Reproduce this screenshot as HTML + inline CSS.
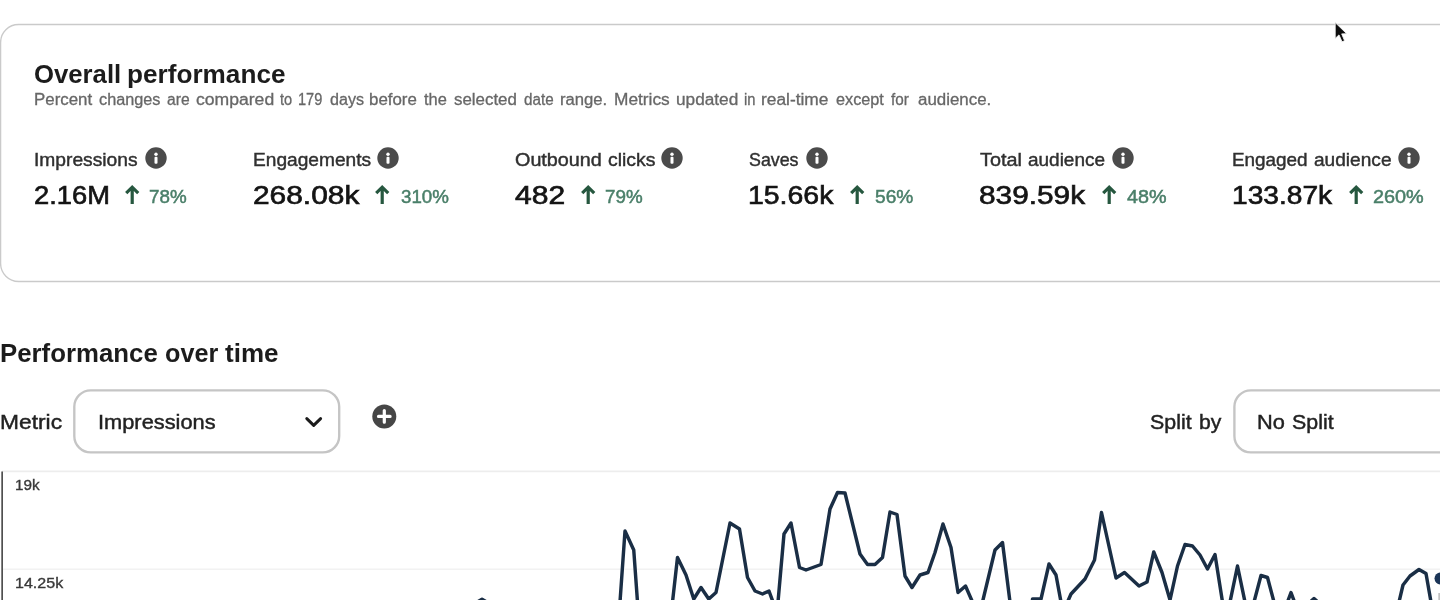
<!DOCTYPE html>
<html lang="en"><head><meta charset="utf-8"><title>Overall performance</title>
<style>
html,body{margin:0;padding:0;background:#fff}
body{width:1440px;height:600px;position:relative;overflow:hidden;font-family:"Liberation Sans",sans-serif}
.t{position:absolute;white-space:nowrap;line-height:1;transform-origin:0 50%;display:block}
.a{position:absolute;display:block}
.h1{font-size:26px;color:#1c1c1c;font-weight:700;}
.sub{font-size:16px;color:#676767;-webkit-text-stroke:0.3px #676767;}
.lab{font-size:17.9px;color:#303030;-webkit-text-stroke:0.42px #303030;}
.val{font-size:25.5px;color:#141414;-webkit-text-stroke:0.65px #141414;}
.pct{font-size:19px;color:#4a7f69;-webkit-text-stroke:0.5px #4a7f69;}
.h2{font-size:26px;color:#1c1c1c;font-weight:700;}
.ctl{font-size:21px;color:#222;-webkit-text-stroke:0.45px #222;}
.ax{font-size:15px;color:#383838;-webkit-text-stroke:0.35px #383838;}
</style></head><body>
<div id="wrap" style="position:absolute;left:0;top:0;width:1440px;height:600px;overflow:hidden">
<svg class="a" style="left:0;top:20px" width="1440" height="266" viewBox="0 20 1440 266"><rect x="0.6" y="24.5" width="1500" height="257" rx="18" ry="18" fill="#fff" stroke="#cacaca" stroke-width="1.35"/></svg>
<h1 style="margin:0"><span class="t h1" style="left:33.61px;top:61.00px;transform:scaleX(0.9890)">Overall</span>
<span class="t h1" style="left:126.99px;top:61.00px;transform:scaleX(1.0062)">performance</span></h1>
<p style="margin:0"><span class="t sub" style="left:33.60px;top:92.00px;transform:scaleX(1.0546)">Percent</span>
<span class="t sub" style="left:98.90px;top:92.00px;transform:scaleX(1.0158)">changes</span>
<span class="t sub" style="left:167.15px;top:92.00px;transform:scaleX(0.9776)">are</span>
<span class="t sub" style="left:196.41px;top:92.00px;transform:scaleX(1.0985)">compared</span>
<span class="t sub" style="left:279.64px;top:92.00px;transform:scaleX(0.9094)">to</span>
<span class="t sub" style="left:297.98px;top:92.00px;transform:scaleX(0.9101)">179</span>
<span class="t sub" style="left:329.65px;top:92.00px;transform:scaleX(1.0045)">days</span>
<span class="t sub" style="left:369.40px;top:92.00px;transform:scaleX(1.0543)">before</span>
<span class="t sub" style="left:423.90px;top:92.00px;transform:scaleX(1.0268)">the</span>
<span class="t sub" style="left:453.91px;top:92.00px;transform:scaleX(1.0552)">selected</span>
<span class="t sub" style="left:523.89px;top:92.00px;transform:scaleX(0.9511)">date</span>
<span class="t sub" style="left:560.37px;top:92.00px;transform:scaleX(1.0411)">range.</span>
<span class="t sub" style="left:614.08px;top:92.00px;transform:scaleX(1.0815)">Metrics</span>
<span class="t sub" style="left:676.09px;top:92.00px;transform:scaleX(1.0758)">updated</span>
<span class="t sub" style="left:744.22px;top:92.00px;transform:scaleX(0.9213)">in</span>
<span class="t sub" style="left:761.08px;top:92.00px;transform:scaleX(1.0830)">real-time</span>
<span class="t sub" style="left:836.40px;top:92.00px;transform:scaleX(1.0157)">except</span>
<span class="t sub" style="left:891.39px;top:92.00px;transform:scaleX(0.9545)">for</span>
<span class="t sub" style="left:917.66px;top:92.00px;transform:scaleX(1.0550)">audience.</span></p>
<div><span class="t lab" style="left:33.65px;top:152.00px;transform:scaleX(1.0739)">Impressions</span>
<span class="t lab" style="left:252.91px;top:152.00px;transform:scaleX(1.0694)">Engagements</span>
<span class="t lab" style="left:515.23px;top:152.00px;transform:scaleX(1.1050)">Outbound</span>
<span class="t lab" style="left:607.73px;top:152.00px;transform:scaleX(1.0858)">clicks</span>
<span class="t lab" style="left:748.96px;top:152.00px;transform:scaleX(0.9961)">Saves</span>
<span class="t lab" style="left:980.23px;top:152.00px;transform:scaleX(1.1078)">Total</span>
<span class="t lab" style="left:1027.72px;top:152.00px;transform:scaleX(1.0603)">audience</span>
<span class="t lab" style="left:1231.87px;top:152.00px;transform:scaleX(1.0556)">Engaged</span>
<span class="t lab" style="left:1314.22px;top:152.00px;transform:scaleX(1.0672)">audience</span></div>
<div><span class="t val" style="left:33.78px;top:183.00px;transform:scaleX(1.0717)">2.16M</span>
<span class="t val" style="left:252.96px;top:183.00px;transform:scaleX(1.1722)">268.08k</span>
<span class="t val" style="left:515.38px;top:183.00px;transform:scaleX(1.1782)">482</span>
<span class="t val" style="left:748.00px;top:183.00px;transform:scaleX(1.1149)">15.66k</span>
<span class="t val" style="left:979.21px;top:183.00px;transform:scaleX(1.1694)">839.59k</span>
<span class="t val" style="left:1231.96px;top:183.00px;transform:scaleX(1.1032)">133.87k</span></div>
<div><span class="t pct" style="left:149.05px;top:187.00px;transform:scaleX(0.9888)">78%</span>
<span class="t pct" style="left:400.75px;top:187.00px;transform:scaleX(0.9858)">310%</span>
<span class="t pct" style="left:605.25px;top:187.00px;transform:scaleX(0.9888)">79%</span>
<span class="t pct" style="left:874.85px;top:187.00px;transform:scaleX(1.0069)">56%</span>
<span class="t pct" style="left:1126.66px;top:187.00px;transform:scaleX(1.0405)">48%</span>
<span class="t pct" style="left:1373.46px;top:187.00px;transform:scaleX(1.0447)">260%</span></div>
<svg class="a" style="left:145.00px;top:146.50px" width="22" height="22" viewBox="0 0 22 22"><circle cx="11" cy="11" r="10.7" fill="#4b4b4b"/><circle cx="11" cy="7.2" r="1.7" fill="#fff"/><rect x="9.5" y="9.8" width="3" height="6.9" rx="1" fill="#fff"/></svg>
<svg class="a" style="left:377.10px;top:146.70px" width="22" height="22" viewBox="0 0 22 22"><circle cx="11" cy="11" r="10.7" fill="#4b4b4b"/><circle cx="11" cy="7.2" r="1.7" fill="#fff"/><rect x="9.5" y="9.8" width="3" height="6.9" rx="1" fill="#fff"/></svg>
<svg class="a" style="left:661.40px;top:146.70px" width="22" height="22" viewBox="0 0 22 22"><circle cx="11" cy="11" r="10.7" fill="#4b4b4b"/><circle cx="11" cy="7.2" r="1.7" fill="#fff"/><rect x="9.5" y="9.8" width="3" height="6.9" rx="1" fill="#fff"/></svg>
<svg class="a" style="left:806.20px;top:146.70px" width="22" height="22" viewBox="0 0 22 22"><circle cx="11" cy="11" r="10.7" fill="#4b4b4b"/><circle cx="11" cy="7.2" r="1.7" fill="#fff"/><rect x="9.5" y="9.8" width="3" height="6.9" rx="1" fill="#fff"/></svg>
<svg class="a" style="left:1112.00px;top:146.70px" width="22" height="22" viewBox="0 0 22 22"><circle cx="11" cy="11" r="10.7" fill="#4b4b4b"/><circle cx="11" cy="7.2" r="1.7" fill="#fff"/><rect x="9.5" y="9.8" width="3" height="6.9" rx="1" fill="#fff"/></svg>
<svg class="a" style="left:1398.00px;top:147.00px" width="22" height="22" viewBox="0 0 22 22"><circle cx="11" cy="11" r="10.7" fill="#4b4b4b"/><circle cx="11" cy="7.2" r="1.7" fill="#fff"/><rect x="9.5" y="9.8" width="3" height="6.9" rx="1" fill="#fff"/></svg>
<svg class="a" style="left:124.30px;top:184.3px" width="17" height="22" viewBox="0 0 17 22"><path d="M8.2 20.1V3.6M2.2 9.2L8.2 3.2L14.2 9.2" fill="none" stroke="#26573f" stroke-width="3.2" stroke-linejoin="miter"/></svg>
<svg class="a" style="left:374.40px;top:184.3px" width="17" height="22" viewBox="0 0 17 22"><path d="M8.2 20.1V3.6M2.2 9.2L8.2 3.2L14.2 9.2" fill="none" stroke="#26573f" stroke-width="3.2" stroke-linejoin="miter"/></svg>
<svg class="a" style="left:579.70px;top:184.3px" width="17" height="22" viewBox="0 0 17 22"><path d="M8.2 20.1V3.6M2.2 9.2L8.2 3.2L14.2 9.2" fill="none" stroke="#26573f" stroke-width="3.2" stroke-linejoin="miter"/></svg>
<svg class="a" style="left:849.10px;top:184.3px" width="17" height="22" viewBox="0 0 17 22"><path d="M8.2 20.1V3.6M2.2 9.2L8.2 3.2L14.2 9.2" fill="none" stroke="#26573f" stroke-width="3.2" stroke-linejoin="miter"/></svg>
<svg class="a" style="left:1100.60px;top:184.3px" width="17" height="22" viewBox="0 0 17 22"><path d="M8.2 20.1V3.6M2.2 9.2L8.2 3.2L14.2 9.2" fill="none" stroke="#26573f" stroke-width="3.2" stroke-linejoin="miter"/></svg>
<svg class="a" style="left:1347.80px;top:184.3px" width="17" height="22" viewBox="0 0 17 22"><path d="M8.2 20.1V3.6M2.2 9.2L8.2 3.2L14.2 9.2" fill="none" stroke="#26573f" stroke-width="3.2" stroke-linejoin="miter"/></svg>
<h2 style="margin:0"><span class="t h2" style="left:0.01px;top:340.00px;transform:scaleX(0.9924)">Performance</span>
<span class="t h2" style="left:164.63px;top:340.00px;transform:scaleX(0.9684)">over</span>
<span class="t h2" style="left:225.00px;top:340.00px;transform:scaleX(1.0000)">time</span></h2>
<svg class="a" style="left:0;top:384px" width="1440" height="76" viewBox="0 384 1440 76"><rect x="74.3" y="390.35" width="264.9" height="62.05" rx="16.5" fill="#fff" stroke="#c5c5c5" stroke-width="2.35"/><rect x="1234.4" y="390.3" width="300" height="62.1" rx="16.5" fill="#fff" stroke="#c5c5c5" stroke-width="2.35"/></svg>
<div><span class="t ctl" style="left:-0.04px;top:411.00px;transform:scaleX(1.0853)">Metric</span>
<span class="t ctl" style="left:97.69px;top:411.00px;transform:scaleX(1.0388)">Impressions</span>
<span class="t ctl" style="left:1150.23px;top:411.00px;transform:scaleX(1.0177)">Split</span>
<span class="t ctl" style="left:1198.72px;top:411.00px;transform:scaleX(1.0077)">by</span>
<span class="t ctl" style="left:1257.00px;top:411.00px;transform:scaleX(1.0384)">No</span>
<span class="t ctl" style="left:1292.43px;top:411.00px;transform:scaleX(1.0177)">Split</span></div>
<div><span class="t ax" style="left:14.66px;top:477.00px;transform:scaleX(1.0194)">19k</span>
<span class="t ax" style="left:14.62px;top:575.00px;transform:scaleX(1.0694)">14.25k</span></div>
<svg class="a" style="left:300px;top:410px" width="28" height="24" viewBox="0 0 28 24"><path d="M6.8 8.6L13.7 15.3L20.6 8.6" fill="none" stroke="#1c1c1c" stroke-width="3" stroke-linecap="round" stroke-linejoin="round"/></svg>
<svg class="a" style="left:372px;top:403.5px" width="25" height="25" viewBox="0 0 25 25"><circle cx="12.3" cy="12.4" r="12" fill="#464646"/><path d="M12.3 6.6V18.2M6.5 12.4H18.1" stroke="#fff" stroke-width="3.2" stroke-linecap="round"/></svg>
<svg class="a" style="left:0;top:460px" width="1440" height="140" viewBox="0 460 1440 140">
<line x1="2" y1="471.3" x2="1440" y2="471.3" stroke="#ededed" stroke-width="1.8"/>
<line x1="2" y1="569.2" x2="1440" y2="569.2" stroke="#f2f2f2" stroke-width="1.6"/>
<line x1="2.15" y1="471.6" x2="2.15" y2="600" stroke="#505050" stroke-width="1.7"/>
<polyline points="474,604 482,599.2 490,604 585,604 600,601.6 619,601.4 620,602 625,531 633.75,550 637.5,602 672.5,602 677.5,557.5 686,575 693.75,599 701,587.5 708.75,599 716,592.5 730,523 739.5,529 747.5,577.5 755,591 762.5,594 769,591 773,602 778,602 784,534 791,523 799.5,567.5 806,570 821,564.5 830,509 837.5,492.5 845,493 860,554 867.5,564.5 875,564.5 882.5,557.5 890,512 897,514.5 905,576 912,587.5 920,575 928,572.5 935,552.5 943,524 951,547.5 958,592.5 965.5,586 972.5,602 982.5,602 995,550 1002.5,542.5 1010,602 1032.5,602 1032.5,599 1041,599 1049,564 1056,575 1061,602 1067.5,602 1071,594 1085,579 1094.5,560 1101.5,512.5 1116,578 1124.5,572.5 1139,586 1147,582 1153.75,552 1162,572.5 1170,600 1177.5,566 1185,544.5 1192.5,546 1200,555 1207.5,569 1215,554.5 1222.5,602 1230,602 1237.5,566 1245,602 1254,602 1261,575.5 1267.5,577.5 1274,602 1287.5,602 1291,592.5 1294.5,602 1309,603 1314,598.5 1319,603 1399,602 1403,585 1410,576 1419,569.5 1426,573.5 1431,602" fill="none" stroke="#1a2e45" stroke-width="3.45" stroke-linejoin="round"/>
<circle cx="1440.5" cy="578.5" r="6" fill="#1b3557"/>
<rect x="1438.3" y="593" width="1.7" height="7" fill="#c2c2c2"/>
</svg>
<svg class="a" style="left:1333px;top:21px" width="16" height="23" viewBox="0 0 16 23"><path d="M2.2 1.6L2.2 17.4L6 13.9L9 20.8L11.6 19.7L8.7 12.9L13.7 12.7Z" fill="#0d0d0d" stroke="#f4f4f4" stroke-width="0.9" stroke-linejoin="round"/></svg>
</div>
</body></html>
